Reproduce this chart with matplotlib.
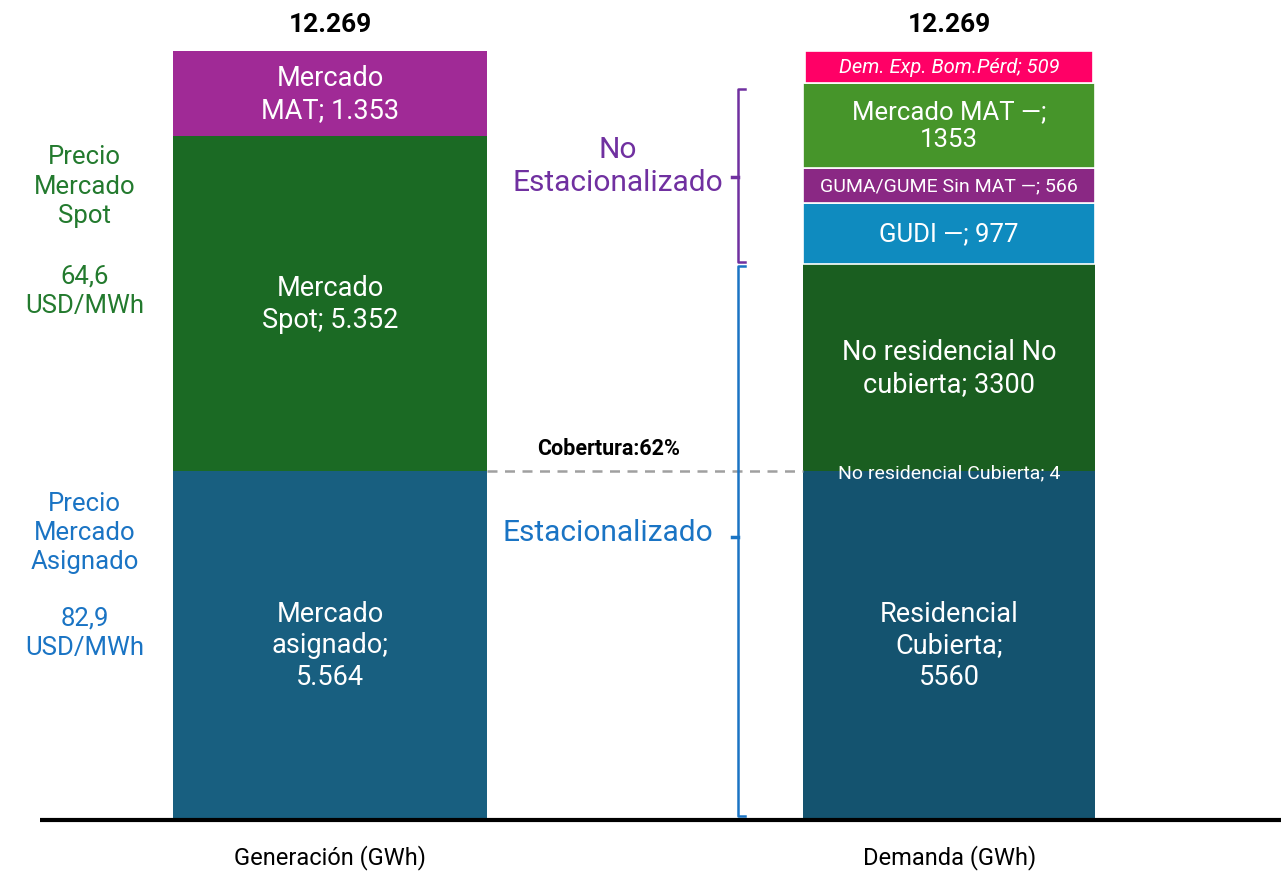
import numpy as np
from matplotlib import pyplot as plt

plt.rcParams['font.family'] = ['Roboto', 'DejaVu Sans']

# Datos (GWh)
gen_labels = ['Mercado\nasignado;\n5.564', 'Mercado\nSpot; 5.352', 'Mercado\nMAT; 1.353']
gen_values = [5564, 5352, 1353]
gen_colors = ['#185f80', '#1b6a24', '#a02a96']

dem_labels = ['Residencial\nCubierta;\n5560', 'No residencial Cubierta; 4',
              'No residencial No\ncubierta; 3300', 'GUDI —; 977',
              'GUMA/GUME Sin MAT —; 566', 'Mercado MAT —;\n1353',
              'Dem. Exp. Bom.Pérd; 509']
dem_values = [5560, 4, 3300, 977, 566, 1353, 509]
dem_colors = ['#14536f', '#14536f', '#1a5e20', '#0f8bbf', '#8a2884', '#46952a', '#ff0066']
dem_sizes = [19.5, 14, 19.5, 18.5, 14, 18.5, 14.5]

totales = ['12.269', '12.269']
categorias = ['Generación (GWh)', 'Demanda (GWh)']
cobertura = 'Cobertura:62%'

fig = plt.figure(figsize=(12.81, 8.79), dpi=100)
ax = fig.add_axes([0, 0, 1, 1])
ax.set_xlim(-0.533, 1.536)
ax.set_ylim(-943, 13100)
ax.axis('off')

# Barra de generación
base = 0
for lab, v, c in zip(gen_labels, gen_values, gen_colors):
    ax.bar(0, v, bottom=base, width=0.507, color=c, edgecolor='none')
    ax.text(0, base + v / 2, lab, ha='center', va='center', color='white',
            fontsize=19.5, linespacing=1.22)
    base += v
ax.text(0, base + 430, totales[0], ha='center', va='center', fontsize=19,
        fontweight='bold')

# Barra de demanda
base = 0
tops = []
for i, (lab, v, c, fs) in enumerate(zip(dem_labels, dem_values, dem_colors, dem_sizes)):
    w = 0.466 if i == len(dem_values) - 1 else 0.472
    ec = 'none' if i <= 2 else 'white'
    ax.bar(1, v, bottom=base, width=w, color=c, edgecolor=ec, linewidth=1.2)
    y = base + v / 2
    style = 'normal'
    if i == 1:
        y = base - 20
    if i == len(dem_values) - 1:
        style = 'italic'
    ax.text(1, y, lab, ha='center', va='center', color='white', fontsize=fs,
            linespacing=1.22, style=style, zorder=5)
    base += v
    tops.append(base)
ax.text(1, base + 430, totales[1], ha='center', va='center', fontsize=19,
        fontweight='bold')

# Línea de cobertura
ax.hlines(gen_values[0], 0.2535, 0.764, colors='#a0a0a0', linestyles=(0, (4, 3)),
          linewidth=1.8)
ax.text(0.45, gen_values[0] + 370, cobertura, ha='center', va='center',
        fontsize=15.5, fontweight='bold')

# Llaves
xb = 0.659
y_sep = tops[2]
y_top = tops[5] - 100
ax.plot([xb + 0.012, xb, xb, xb + 0.012], [y_sep + 30, y_sep + 30, y_top, y_top],
        color='#7030a0', lw=1.8)
ax.plot([xb - 0.009, xb], [(y_sep + y_top) / 2] * 2, color='#7030a0', lw=2.5)
ax.plot([xb + 0.012, xb, xb, xb + 0.012], [40, 40, y_sep - 30, y_sep - 30],
        color='#1a74c4', lw=1.8)
ax.plot([xb - 0.009, xb], [y_sep * 0.508] * 2, color='#1a74c4', lw=2.5)

ax.text(0.465, 10440, 'No\nEstacionalizado', ha='center', va='center',
        color='#7030a0', fontsize=21.5, linespacing=1.27)
ax.text(0.448, 4585, 'Estacionalizado', ha='center', va='center',
        color='#1a74c4', fontsize=21.5)

# Precios
ax.text(-0.396, 10120, 'Precio\nMercado\nSpot', ha='center', va='center',
        color='#237a2e', fontsize=18.5, linespacing=1.27)
ax.text(-0.396, 8451, '64,6\nUSD/MWh', ha='center', va='center',
        color='#237a2e', fontsize=18.5, linespacing=1.27)
ax.text(-0.396, 4590, 'Precio\nMercado\nAsignado', ha='center', va='center',
        color='#1a74c4', fontsize=18.5, linespacing=1.27)
ax.text(-0.396, 2987, '82,9\nUSD/MWh', ha='center', va='center',
        color='#1a74c4', fontsize=18.5, linespacing=1.27)

# Eje base
ax.hlines(-15, -0.469, 1.536, colors='black', linewidth=3)
for x, lab in zip([0, 1], categorias):
    ax.text(x, -600, lab, ha='center', va='center', fontsize=17)

plt.savefig('out.png', dpi=100)
